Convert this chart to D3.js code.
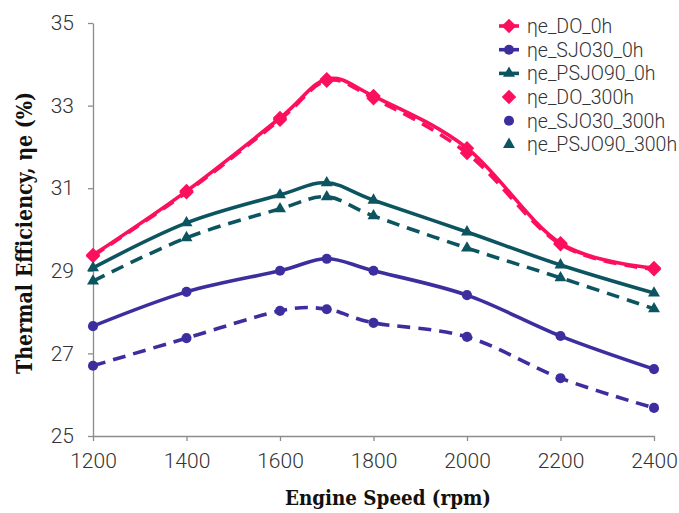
<!DOCTYPE html>
<html><head><meta charset="utf-8">
<script src="https://cdn.jsdelivr.net/npm/d3@7"></script>
<style>body{margin:0;background:#fff}svg{display:block}</style>
</head><body>
<svg id="c" width="679" height="513"></svg>
<script>
const speeds = [1200, 1400, 1600, 1700, 1800, 2000, 2200, 2400];
const DO_0h = [29.38, 30.93, 32.70, 33.64, 33.23, 31.97, 29.67, 29.07];
const SJO30_0h = [27.66, 28.49, 29.00, 29.29, 29.00, 28.41, 27.42, 26.62];
const PSJO90_0h = [29.07, 30.16, 30.84, 31.13, 30.71, 29.94, 29.14, 28.46];
const DO_300h = [29.36, 30.90, 32.66, 33.60, 33.18, 31.85, 29.64, 29.04];
const SJO30_300h = [26.70, 27.37, 28.03, 28.07, 27.74, 27.40, 26.40, 25.68];
const PSJO90_300h = [28.75, 29.80, 30.50, 30.79, 30.33, 29.55, 28.83, 28.08];
const seriesNames = ["ηe_DO_0h", "ηe_SJO30_0h", "ηe_PSJO90_0h", "ηe_DO_300h", "ηe_SJO30_300h", "ηe_PSJO90_300h"];
const xTicks = [1200, 1400, 1600, 1800, 2000, 2200, 2400];
const yTicks = [25, 27, 29, 31, 33, 35];

const pink = "#fc0f5c", purple = "#3d2e9f", teal = "#0c5560";
const series = [
  {name: seriesNames[0], values: DO_0h, color: pink, marker: "diamond", dashed: false},
  {name: seriesNames[1], values: SJO30_0h, color: purple, marker: "circle", dashed: false},
  {name: seriesNames[2], values: PSJO90_0h, color: teal, marker: "triangle", dashed: false},
  {name: seriesNames[3], values: DO_300h, color: pink, marker: "diamond", dashed: true},
  {name: seriesNames[4], values: SJO30_300h, color: purple, marker: "circle", dashed: true},
  {name: seriesNames[5], values: PSJO90_300h, color: teal, marker: "triangle", dashed: true}
];

const svg = d3.select("#c");
const x = d3.scaleLinear().domain([1200, 2400]).range([93, 654]);
const y = d3.scaleLinear().domain([25, 35]).range([436, 23]);
const axisColor = "#8c8c8c";
const tickFont = "Roboto, sans-serif";
const titleFont = "'DejaVu Serif', serif";

const gx = svg.append("g").attr("transform", "translate(0,436)")
  .call(d3.axisBottom(x).tickValues(xTicks).tickSize(5).tickSizeOuter(0).tickPadding(12).tickFormat(d3.format("d")));
const gy = svg.append("g").attr("transform", "translate(93,0)")
  .call(d3.axisLeft(y).tickValues(yTicks).tickSize(5).tickSizeOuter(0).tickPadding(14).tickFormat(d3.format("d")));
[gx, gy].forEach(g => {
  g.select(".domain").attr("stroke", axisColor).attr("stroke-width", 1.3);
  g.selectAll(".tick line").attr("stroke", axisColor).attr("stroke-width", 1.3);
  g.selectAll(".tick text").attr("fill", "#333").attr("font-family", tickFont)
    .attr("font-size", 21).attr("font-weight", 300);
});

const line = d3.line().x((d, i) => x(speeds[i])).y(d => y(d)).curve(d3.curveCatmullRom.alpha(0));

function markerPath(type) {
  if (type === "diamond") return d3.symbol(d3.symbolSquare, 105)();
  if (type === "circle") return d3.symbol(d3.symbolCircle, 80)();
  return d3.symbol(d3.symbolTriangle, 62)();
}
function markerRot(type) { return type === "diamond" ? " rotate(45)" : ""; }

// draw order: 300h first (underneath), then 0h
const order = [3, 4, 5, 0, 1, 2];
order.forEach(k => {
  const s = series[k];
  const g = svg.append("g");
  g.append("path").datum(s.values).attr("d", line).attr("fill", "none")
    .attr("stroke", s.color).attr("stroke-width", 3.6)
    .attr("stroke-dasharray", s.dashed ? "13,8" : null);
  g.selectAll("path.m").data(s.values).join("path").attr("class", "m")
    .attr("d", markerPath(s.marker))
    .attr("transform", (d, i) => `translate(${x(speeds[i])},${y(d)})` + markerRot(s.marker))
    .attr("fill", s.color);
});

// legend
const lg = svg.append("g");
series.forEach((s, i) => {
  const yy = 26 + i * 23.7;
  const row = lg.append("g").attr("transform", `translate(0,${yy})`);
  if (!s.dashed) row.append("line").attr("x1", 499).attr("x2", 519).attr("y1", 0).attr("y2", 0)
    .attr("stroke", s.color).attr("stroke-width", 3.6);
  row.append("path").attr("d", markerPath(s.marker)).attr("transform", "translate(509,0)" + markerRot(s.marker)).attr("fill", s.color);
  row.append("text").attr("x", 527).attr("y", 0).attr("dy", "0.35em").text(s.name)
    .attr("font-family", tickFont).attr("font-size", 19.5).attr("font-weight", 300).attr("fill", "#333");
});

// titles
svg.append("text").attr("x", 388).attr("y", 505).attr("text-anchor", "middle")
  .attr("font-family", titleFont).attr("font-weight", "bold").attr("font-size", 21).attr("fill", "#111")
  .attr("textLength", 206).attr("lengthAdjust", "spacingAndGlyphs")
  .text("Engine Speed (rpm)");
svg.append("text").attr("transform", "translate(32,233) rotate(-90)").attr("text-anchor", "middle")
  .attr("font-family", titleFont).attr("font-weight", "bold").attr("font-size", 21.5).attr("fill", "#111")
  .attr("textLength", 282).attr("lengthAdjust", "spacingAndGlyphs")
  .text("Thermal Efficiency, ηe (%)");
</script>
</body></html>
